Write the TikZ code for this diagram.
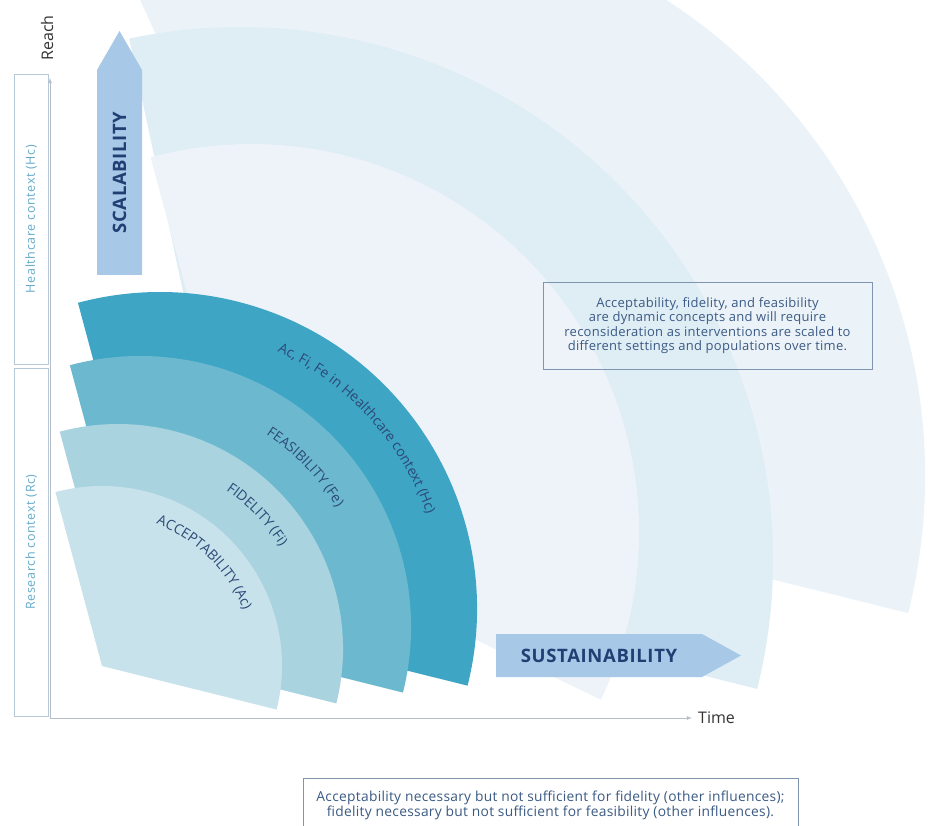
\documentclass[tikz,border=0pt]{standalone}
\usepackage{fontspec}
\setmainfont{Open Sans}
\usepackage{xcolor}
\usetikzlibrary{decorations.text}
\usetikzlibrary{positioning}

\definecolor{paleA}{HTML}{EDF3F9}
\definecolor{paleB}{HTML}{DFEDF5}
\definecolor{paleC}{HTML}{ECF3F8}
\definecolor{hcblue}{HTML}{3FA5C5}
\definecolor{feblue}{HTML}{6CB9CF}
\definecolor{fiblue}{HTML}{A9D3DF}
\definecolor{acblue}{HTML}{C8E2EB}
\definecolor{arcink}{HTML}{2C4A78}
\definecolor{arrowblue}{HTML}{A8C8E8}
\definecolor{arrowink}{HTML}{213F72}
\definecolor{ctxink}{HTML}{63AACA}
\definecolor{ctxline}{HTML}{B7C8D6}
\definecolor{noteink}{HTML}{3B5A84}
\definecolor{noteline}{HTML}{7F95AF}
\definecolor{axisgray}{HTML}{B5BEC8}

\newcommand{\arcfont}{\fontsize{14}{16}\selectfont\color{arcink}}

\begin{document}
\begin{tikzpicture}[x=1pt, y=1pt,
    axisline/.style={draw=axisgray, line width=0.8pt},
    ctxbox/.style={draw=ctxline, line width=0.7pt, text=ctxink, rotate=90, inner sep=0pt,
        font=\fontsize{12.5}{14}\selectfont\addfontfeatures{LetterSpace=5}},
    arrowtext/.style={text=arrowink, font=\fontsize{18.5}{22}\bfseries\addfontfeatures{LetterSpace=3.5}},
    notebox/.style={draw=noteline, line width=0.6pt, text=noteink, align=center},
    axislabel/.style={text=black!80, font=\fontsize{16}{18}\selectfont, inner sep=1pt}]

    \useasboundingbox (0,0) rectangle (928,825);
    \clip (0,0) rectangle (928,825);

    % pale fans behind
    \fill [color=paleC] (358,349) -- ++(-14:567) arc [start angle=-14, end angle=114.6, radius=567] -- cycle;
    \fill [color=paleB] (240,265) -- ++(-14:533) arc [start angle=-14, end angle=102, radius=533] -- cycle;
    \fill [color=paleA] (251,293) -- ++(-25.6:388) arc [start angle=-25.6, end angle=105, radius=388] -- cycle;

    % the four fans
    \fill [color=hcblue] (160,216) -- ++(-14:317) arc [start angle=-14, end angle=105, radius=317] -- cycle;
    \fill [color=feblue] (140,198) -- ++(-14:271) arc [start angle=-14, end angle=105, radius=271] -- cycle;
    \fill [color=fiblue] (118,176) -- ++(-14:225) arc [start angle=-14, end angle=105, radius=225] -- cycle;
    \fill [color=acblue] (102,159) -- ++(-14:180) arc [start angle=-14, end angle=105, radius=180] -- cycle;

    % labels on the fans
    \path (160,216) ++(88:283) coordinate (hcarc);
    \path (140,198) ++(88:230) coordinate (fearc);
    \path (118,176) ++(88:192) coordinate (fiarc);
    \path (102,159) ++(90:152) coordinate (acarc);
    \path [decorate, decoration={text along path, text align=center,
        text={|\arcfont|Ac, Fi, Fe in Healthcare context (Hc)}}]
        (hcarc) arc [start angle=88, end angle=-3, radius=283];
    \path [decorate, decoration={text along path, text align=center,
        text={|\arcfont|FEASIBILITY (Fe)}}]
        (fearc) arc [start angle=88, end angle=0, radius=230];
    \path [decorate, decoration={text along path, text align=center,
        text={|\arcfont|FIDELITY (Fi)}}]
        (fiarc) arc [start angle=88, end angle=0, radius=192];
    \path [decorate, decoration={text along path, text align=center,
        text={|\arcfont|ACCEPTABILITY (Ac)}}]
        (acarc) arc [start angle=90, end angle=0.6, radius=152];

    % scalability and sustainability arrows
    \fill [color=arrowblue] (97,550) -- (142,550) -- (142,755) -- (119.5,794) -- (97,755) -- cycle;
    \node [arrowtext, rotate=90] (scal) at (119.5,652.5) {SCALABILITY};
    \fill [color=arrowblue] (496,148) -- (702,148) -- (741,169.5) -- (702,191) -- (496,191) -- cycle;
    \node [arrowtext] (sust) at (599,169.5) {SUSTAINABILITY};

    % context boxes
    \node [ctxbox, minimum width=290pt, minimum height=34pt] (hcbox) at (31,606) {Healthcare context (Hc)};
    \node [ctxbox, minimum width=348pt, minimum height=34pt] (rcbox) at (31,283) {Research context (Rc)};

    % axes
    \coordinate (origin) at (50,107);
    \coordinate (reachtip) at (50,747);
    \coordinate (timetip) at (692,107);
    \draw [axisline, ->, >=latex] (origin) -- (reachtip);
    \draw [axisline, ->, >=latex] (origin) -- (timetip);
    \node [axislabel, rotate=90] (reach) at (47,787) {Reach};
    \node [axislabel, right=5pt of timetip] (time) {Time};

    % notes
    \node [notebox, minimum width=329pt, minimum height=87pt,
        font=\fontsize{13}{14.3}\selectfont\addfontfeatures{LetterSpace=2}] (dynbox) at (707.5,499.5)
        {Acceptability, fidelity, and feasibility\\are dynamic concepts and will require\\reconsideration as interventions are scaled to\\different settings and populations over time.};
    \node [notebox, fill=white, minimum width=495pt, minimum height=55pt, inner ysep=2pt,
        font=\fontsize{13.8}{15}\selectfont\addfontfeatures{LetterSpace=2}] (needbox) at (550.5,19.5)
        {Acceptability necessary but not sufficient for fidelity (other influences);\\fidelity necessary but not sufficient for feasibility (other influences).};

\end{tikzpicture}
\end{document}
